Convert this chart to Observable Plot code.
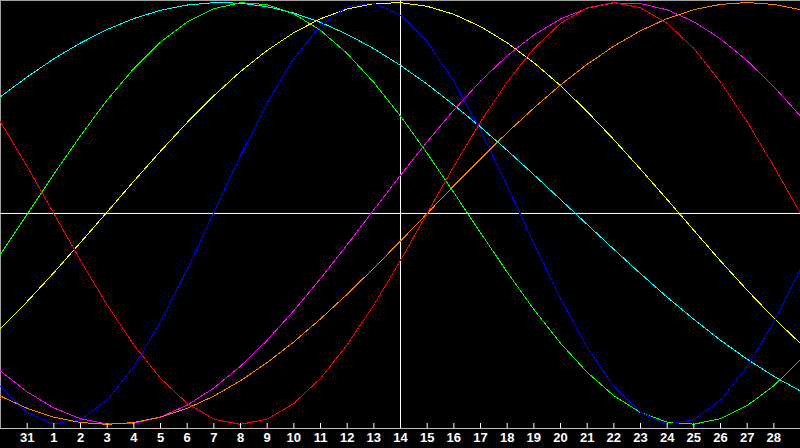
<!DOCTYPE html>
<html><head><meta charset="utf-8">
<script src="https://cdn.jsdelivr.net/npm/d3@7"></script>
<script src="https://cdn.jsdelivr.net/npm/@observablehq/plot@0.6"></script>
<style>html,body{margin:0;padding:0;background:#000;overflow:hidden}#chart svg{display:block}</style>
</head><body><div id="chart"></div>
<script>
const days = [0,1,2,3,4,5,6,7,8,9,10,11,12,13,14,15,16,17,18,19,20,21,22,23,24,25,26,27,28,29,30];
const tickDays = [1,2,3,4,5,6,7,8,9,10,11,12,13,14,15,16,17,18,19,20,21,22,23,24,25,26,27,28,29];
const tickLabels = ["31","1","2","3","4","5","6","7","8","9","10","11","12","13","14","15","16","17","18","19","20","21","22","23","24","25","26","27","28"];

const seriesNames = ["Spiritual","Intellectual","Aesthetic","Physical","Intuitive","Awareness","Emotional"];
const seriesColors = ["#00ffff","#00ff00","#ffff00","#0000ff","#ff00ff","#ff8000","#ff0000"];

const physical = [-0.820,-0.944,-0.998,-0.978,-0.885,-0.727,-0.515,-0.265,0.005,0.275,0.524,0.734,0.890,0.980,0.997,0.940,0.814,0.627,0.393,0.131,-0.142,-0.403,-0.636,-0.820,-0.944,-0.998,-0.978,-0.885,-0.727,-0.515,-0.265];
const emotional = [0.434,0.223,0,-0.223,-0.434,-0.623,-0.782,-0.901,-0.975,-1,-0.975,-0.901,-0.782,-0.623,-0.434,-0.223,0,0.223,0.434,0.623,0.782,0.901,0.975,1,0.975,0.901,0.782,0.623,0.434,0.223,0];
const intellectual = [-0.193,-0.004,0.186,0.368,0.538,0.687,0.812,0.908,0.971,0.999,0.990,0.946,0.868,0.758,0.621,0.462,0.285,0.099,-0.091,-0.278,-0.455,-0.615,-0.753,-0.864,-0.944,-0.989,-0.999,-0.973,-0.911,-0.817,-0.693];
const intuitive = [-0.747,-0.846,-0.922,-0.973,-0.998,-0.995,-0.965,-0.909,-0.828,-0.724,-0.601,-0.461,-0.309,-0.148,0.017,0.181,0.340,0.490,0.627,0.747,0.846,0.922,0.973,0.998,0.995,0.965,0.909,0.828,0.724,0.601,0.461];
const aesthetic = [-0.546,-0.418,-0.281,-0.138,0.007,0.153,0.295,0.431,0.558,0.673,0.773,0.857,0.923,0.969,0.995,0.999,0.982,0.944,0.886,0.809,0.715,0.606,0.483,0.350,0.210,0.066,-0.080,-0.225,-0.364,-0.496,-0.617];
const awareness = [-0.866,-0.924,-0.966,-0.991,-1,-0.991,-0.966,-0.924,-0.866,-0.793,-0.707,-0.609,-0.5,-0.383,-0.259,-0.131,0,0.131,0.259,0.383,0.5,0.609,0.707,0.793,0.866,0.924,0.966,0.991,1,0.991,0.966];
const spiritual = [0.553,0.647,0.733,0.808,0.872,0.924,0.963,0.988,0.999,0.997,0.980,0.950,0.906,0.849,0.781,0.702,0.613,0.514,0.410,0.299,0.184,0.066,-0.052,-0.170,-0.285,-0.397,-0.502,-0.601,-0.691,-0.772,-0.842];

const seriesValues = [spiritual, intellectual, aesthetic, physical, intuitive, awareness, emotional];
const rows = [];
seriesNames.forEach((name, k) => seriesValues[k].forEach((v, i) => rows.push({day: days[i], value: v, series: name})));

const yLow = -1.0195, yHigh = 1.0095;
const todayDay = 15;

const plot = Plot.plot({
  width: 800, height: 448,
  marginTop: 0, marginRight: 0, marginBottom: 20, marginLeft: 0,
  style: {background: "#000", color: "#fff", overflow: "visible"},
  x: {domain: [0, 30], axis: null},
  y: {domain: [yLow, yHigh], axis: null},
  color: {domain: seriesNames, range: seriesColors},
  marks: [
    Plot.ruleY([yLow], {stroke: "#c0c0c0"}),
    Plot.ruleX([0], {stroke: "#a0a0a0", y1: yLow, y2: yHigh}),
    Plot.ruleY([yHigh], {stroke: "#a0a0a0"}),
    Plot.ruleY([0], {stroke: "#ffffff"}),
    Plot.ruleX([todayDay], {stroke: "#ffffff", y1: yLow, y2: yHigh}),
    Plot.line(rows, {x: "day", y: "value", z: "series", stroke: "series", strokeWidth: 1, shapeRendering: "crispEdges"}),
    Plot.axisX(tickDays, {anchor: "bottom", label: null, tickSize: -5, tickPadding: 9,
      tickFormat: d => tickLabels[tickDays.indexOf(d)],
      color: "#ffffff", fontWeight: "bold", fontSize: 13, fontFamily: "Liberation Sans, Arial, sans-serif"})
  ]
});
document.getElementById("chart").appendChild(plot);
</script>
</body></html>
